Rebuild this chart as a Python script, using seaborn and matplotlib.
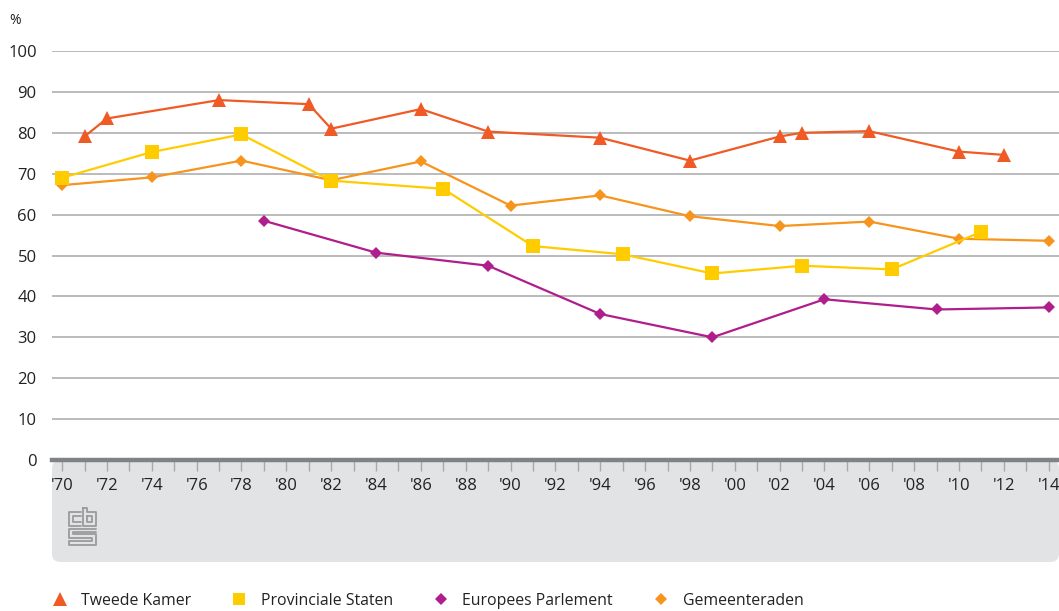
import matplotlib
matplotlib.use("Agg")
import matplotlib.pyplot as plt
import seaborn as sns
import pandas as pd
from matplotlib.lines import Line2D
from matplotlib.patches import FancyBboxPatch

# Opkomst per verkiezing (%)
tk_years = [1971, 1972, 1977, 1981, 1982, 1986, 1989, 1994, 1998, 2002, 2003, 2006, 2010, 2012]
tk_values = [79.1, 83.5, 88.0, 87.0, 81.0, 85.8, 80.3, 78.8, 73.2, 79.1, 80.0, 80.4, 75.4, 74.6]

ps_years = [1970, 1974, 1978, 1982, 1987, 1991, 1995, 1999, 2003, 2007, 2011]
ps_values = [69.0, 75.3, 79.6, 68.3, 66.3, 52.3, 50.3, 45.6, 47.5, 46.6, 55.8]

ep_years = [1979, 1984, 1989, 1994, 1999, 2004, 2009, 2014]
ep_values = [58.5, 50.7, 47.5, 35.7, 30.0, 39.3, 36.8, 37.3]

gr_years = [1970, 1974, 1978, 1982, 1986, 1990, 1994, 1998, 2002, 2006, 2010, 2014]
gr_values = [67.2, 69.1, 73.2, 68.4, 73.0, 62.2, 64.7, 59.6, 57.2, 58.3, 54.1, 53.6]

series_names = ["Tweede Kamer", "Provinciale Staten", "Europees Parlement", "Gemeenteraden"]
tick_years = list(range(1970, 2015, 2))
tick_labels = ["'" + str(y)[2:] for y in tick_years]

colors = {"Tweede Kamer": "#F05A24", "Provinciale Staten": "#FFCC00",
          "Europees Parlement": "#AF1E8C", "Gemeenteraden": "#F7941D"}
markers = {"Tweede Kamer": "^", "Provinciale Staten": "s",
           "Europees Parlement": "D", "Gemeenteraden": "D"}
msizes = {"Tweede Kamer": 10, "Provinciale Staten": 9.5,
          "Europees Parlement": 6.5, "Gemeenteraden": 6.5}

frames = []
for name, yrs, vals in zip(series_names, [tk_years, ps_years, ep_years, gr_years],
                           [tk_values, ps_values, ep_values, gr_values]):
    frames.append(pd.DataFrame({"Jaar": yrs, "Opkomst": vals, "Verkiezing": name}))
df = pd.concat(frames, ignore_index=True)

sns.set_style("white")
plt.rcParams["font.family"] = ["Open Sans", "DejaVu Sans"]

W, H = 1059, 611
fig = plt.figure(figsize=(W / 100, H / 100), dpi=100)


def px(x, y):
    return x / W, 1 - y / H


# grey panel below the axis
panel = FancyBboxPatch(px(52, 562), (W - 52) / W, (562 - 460) / H,
                       boxstyle="round,pad=0,rounding_size=0.008",
                       mutation_aspect=W / H, transform=fig.transFigure,
                       facecolor="#E2E3E5", edgecolor="none", zorder=-5)
fig.patches.append(panel)

ax = fig.add_axes([52 / W, 1 - 460 / H, (W - 52) / W, (460 - 51) / H])
ax.set_facecolor("none")

draw_order = ["Gemeenteraden", "Europees Parlement", "Provinciale Staten", "Tweede Kamer"]
for name in draw_order:
    sub = df[df["Verkiezing"] == name]
    sns.lineplot(data=sub, x="Jaar", y="Opkomst", ax=ax, color=colors[name],
                 marker=markers[name], markersize=msizes[name], markeredgewidth=0,
                 linewidth=1.6, legend=False, clip_on=False, zorder=3)

ax.set_xlim(1969.55, 2014.46)
ax.set_ylim(0, 100)
ax.set_yticks(range(0, 101, 10))
ax.set_xticks(tick_years)
ax.set_xticklabels(tick_labels)
ax.set_xticks(range(1971, 2015, 2), minor=True)
ax.set_xlabel("")
ax.set_ylabel("")

ax.grid(axis="y", color="#B5B5B5", linewidth=1.3)
ax.grid(axis="x", visible=False)
ax.set_axisbelow(True)
for s in ["top", "right", "left"]:
    ax.spines[s].set_visible(False)
ax.spines["bottom"].set_color("#808285")
ax.spines["bottom"].set_linewidth(3.2)
ax.spines["bottom"].set_zorder(4)

ax.tick_params(axis="y", length=0, pad=11, labelsize=12, labelcolor="#222222")
ax.tick_params(axis="x", which="both", bottom=True, direction="out", length=8, width=1,
               color="#A7A9AC", labelsize=12, labelcolor="#222222", pad=5)

fig.text(*px(9, 20), "%", fontsize=10, color="#222222", va="center", ha="left")

# cbs logo (simple line drawing)
logo_c = "#9A9A9A"
logo_paths = [
    [(81, 512), (69, 512), (69, 526), (81, 526)],
    [(81, 516), (73, 516), (73, 522), (81, 522)],
    [(83, 508), (83, 526), (96, 526), (96, 512), (87, 512), (87, 508), (83, 508)],
    [(87, 516), (92, 516), (92, 522), (87, 522), (87, 516)],
    [(96, 529), (69, 529), (69, 538), (92, 538), (92, 541), (69, 541), (69, 545), (96, 545), (96, 534), (73, 534), (73, 532), (96, 532)],
]
for path in logo_paths:
    xs = [px(x, y)[0] for x, y in path]
    ys = [px(x, y)[1] for x, y in path]
    fig.add_artist(Line2D(xs, ys, color=logo_c, linewidth=1.3, transform=fig.transFigure))

handles = [Line2D([], [], linestyle="none", marker=markers[n], color=colors[n],
                  markersize=msizes[n] * 0.95, markeredgewidth=0) for n in series_names]
fig.legend(handles, series_names, loc="center left", bbox_to_anchor=px(50, 601),
           ncol=4, frameon=False, fontsize=11.4, handlelength=1.2, handletextpad=0.75,
           columnspacing=2.45, borderpad=0, borderaxespad=0, labelcolor="#222222")

fig.savefig("out.png", dpi=100)
